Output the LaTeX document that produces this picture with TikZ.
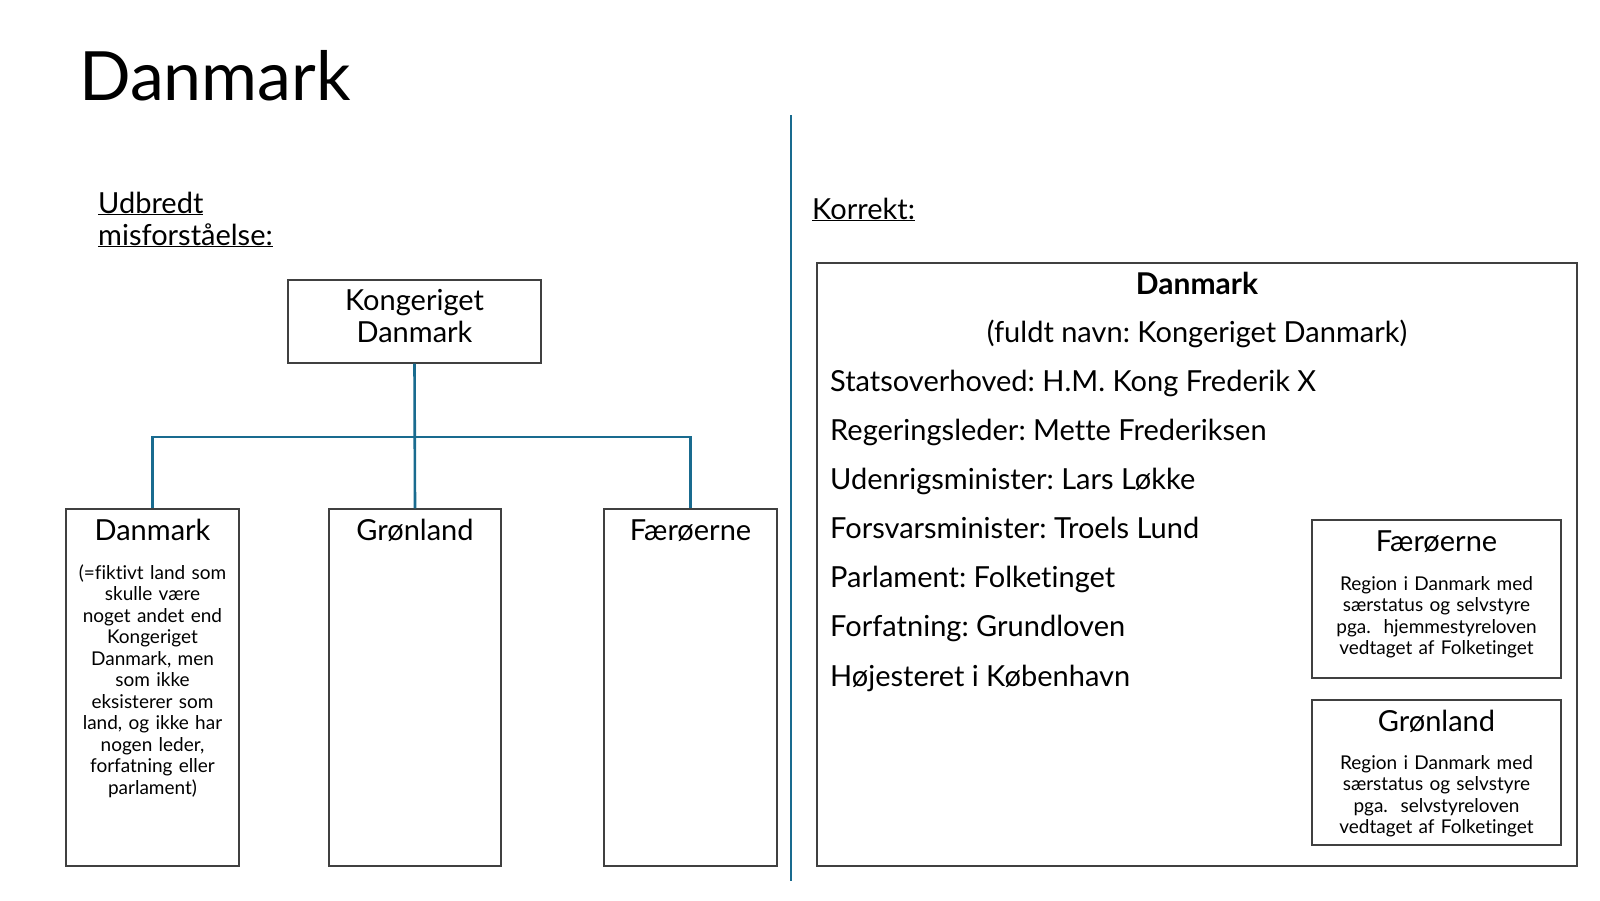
\documentclass[tikz,border=0pt]{standalone}
\usepackage{fontspec}
\setmainfont{Lato}[RawFeature={-liga;-dlig;-clig}]
\definecolor{accent}{HTML}{196B8F}
\definecolor{boxgray}{HTML}{404040}
\frenchspacing
\begin{document}
\begin{tikzpicture}[x=1pt,y=-1pt,
  box/.style={draw=boxgray, line width=1.2pt, inner sep=0pt, rectangle},
  conn/.style={draw=accent, line width=2.6pt},
  big/.style={font=\fontsize{29}{32}\selectfont, inner sep=0pt},
  small/.style={font=\fontsize{19}{21.5}\selectfont, inner sep=0pt, align=center},
  headtxt/.style={font=\fontsize{29}{32}\selectfont, inner sep=0pt, anchor=base west}
]
\useasboundingbox[fill=white] (0,0) rectangle (1600,900);

% title
\node[anchor=base west, inner sep=0pt, font=\fontsize{68}{80}\selectfont] (title) at (79,100) {Danmark};

% divider
\coordinate (dtop) at (791,115);
\coordinate (dbot) at (791,881);
\draw[conn] (dtop) -- (dbot);

% left header
\node[headtxt] (udb1) at (98,213) {\underline{Udbredt}};
\node[headtxt] (udb2) at (98,245) {\underline{misforståelse:}};
\node[headtxt] (kor) at (812,219) {\underline{Korrekt:}};

% left tree
\node[box, minimum width=253pt, minimum height=83pt] (kd) at (414.5,321.5) {};
\node[big, anchor=base, text width=250pt, align=center] (kdt) at (414.5,310) {Kongeriget\\Danmark};

\node[box, minimum width=173pt, minimum height=357pt] (danm) at (152.5,687.5) {};
\node[box, minimum width=172pt, minimum height=357pt] (gron) at (415,687.5) {};
\node[box, minimum width=173pt, minimum height=357pt] (faer) at (690.5,687.5) {};

\coordinate (bus) at (415,437);
\draw[conn] (kd.south) -- (gron.north);
\draw[conn] (danm.north) -- (danm.north |- bus) -- (faer.north |- bus) -- (faer.north);

\node[big, anchor=base] (danmt) at (152.5,540) {Danmark};
\node[big, anchor=base] (gront) at (415,540) {Grønland};
\node[big, anchor=base] (faert) at (690.5,540) {Færøerne};
\node[small, anchor=base, text width=170pt] (danms) at (152.5,579)
 {(=fiktivt land som\\skulle være\\noget andet end\\Kongeriget\\Danmark, men\\som ikke\\eksisterer som\\land, og ikke har\\nogen leder,\\forfatning eller\\parlament)};

% right big box
\node[box, minimum width=760pt, minimum height=603pt] (rbox) at (1197,564.5) {};
\node[big, anchor=base, font=\fontsize{30}{32}\selectfont\bfseries] (rt) at (1197,294) {Danmark};
\node[big, anchor=base] (rfull) at (1197,342) {(fuldt navn: Kongeriget Danmark)};
\node[big, anchor=base west] (l1) at (830,391) {Statsoverhoved: H.M. Kong Frederik X};
\node[big, anchor=base west] (l2) at (830,440) {Regeringsleder: Mette Frederiksen};
\node[big, anchor=base west] (l3) at (830,489) {Udenrigsminister: Lars Løkke};
\node[big, anchor=base west] (l4) at (830,538) {Forsvarsminister: Troels Lund};
\node[big, anchor=base west] (l5) at (830,587) {Parlament: Folketinget};
\node[big, anchor=base west] (l6) at (830,636) {Forfatning: Grundloven};
\node[big, anchor=base west] (l7) at (830,686) {Højesteret i København};

% inner boxes
\node[box, minimum width=249pt, minimum height=158pt] (fbox) at (1436.5,599) {};
\node[big, anchor=base] (fboxt) at (1436.5,551) {Færøerne};
\node[small, anchor=base, text width=245pt] (fboxs) at (1436.5,590)
 {Region i Danmark med\\særstatus og selvstyre\\pga.\ \ hjemmestyreloven\\vedtaget af Folketinget};

\node[box, minimum width=249pt, minimum height=145pt] (gbox) at (1436.5,772.5) {};
\node[big, anchor=base] (gboxt) at (1436.5,731) {Grønland};
\node[small, anchor=base, text width=245pt] (gboxs) at (1436.5,769)
 {Region i Danmark med\\særstatus og selvstyre\\pga.\ \ selvstyreloven\\vedtaget af Folketinget};
\end{tikzpicture}
\end{document}
